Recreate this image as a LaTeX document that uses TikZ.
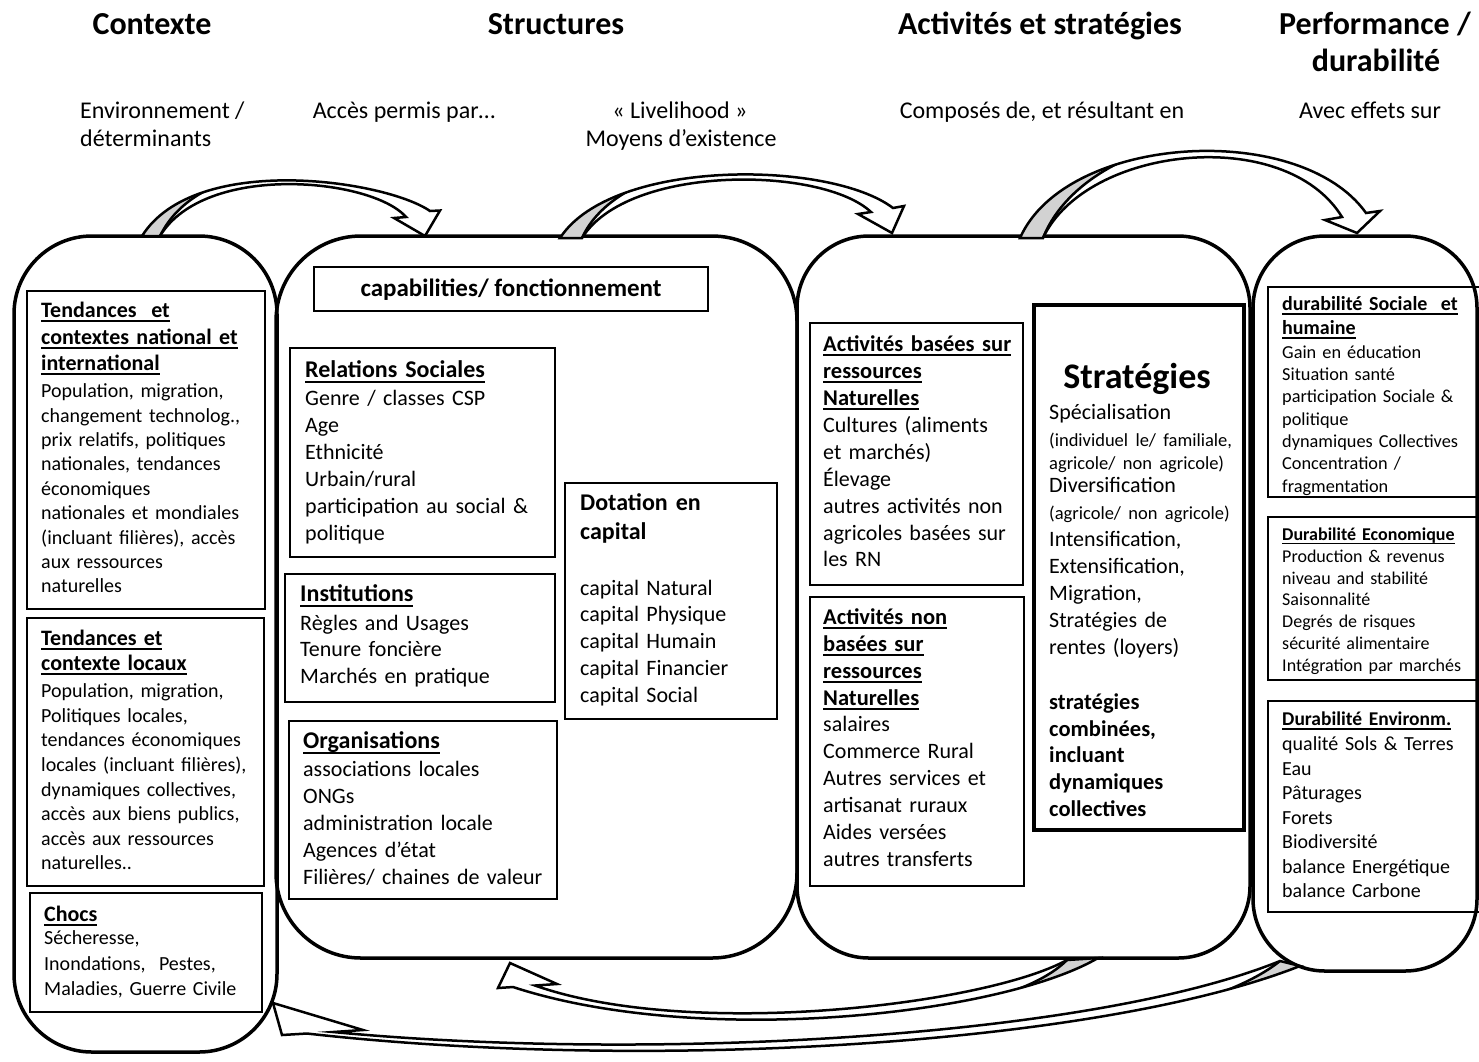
\documentclass[tikz,border=0pt]{standalone}
\usepackage{fontspec}
\setmainfont{Carlito}
\newcommand{\fsz}[2]{\fontsize{#1}{#2}\selectfont}
\newcommand{\myul}[1]{\leavevmode{\setbox0\hbox{#1}\rlap{\rule[-0.2em]{\wd0}{0.075em}}\box0}}
\newcommand{\bentarrow}[3]{%
  \fill[white] #1;
  \begin{scope}
    \clip #1;
    \fill[gray!35] #2 #3;
    \draw[line width=2.5pt] #2;
  \end{scope}
  \draw[arrowline] #1;}
\begin{document}
\begin{tikzpicture}[x=1pt,y=-1pt,
  bigshape/.style={draw, line width=3.5pt, rounded corners=#1},
  boxline/.style={draw, line width=1.5pt},
  thickbox/.style={draw, line width=3.5pt},
  lbl/.style={anchor=north west, inner sep=0pt, align=left, text width=300pt},
  arrowline/.style={draw, line width=2.5pt, line join=miter, miter limit=20},
  hdr/.style={anchor=base, inner sep=0pt, font=\fsz{32}{38}\bfseries},
  sub/.style={anchor=base, inner sep=0pt, font=\fsz{24}{28}}]
\useasboundingbox (0,0) rectangle (1479,1061);
\fill[white] (0,0) rectangle (1479,1061);

% ---------- headers ----------
\node[hdr] (hCtx) at (152,34) {Contexte};
\node[hdr] (hStr) at (556,34) {Structures};
\node[hdr] (hAct) at (1040,34) {Activités et stratégies};
\node[hdr] (hPerfA) at (1375,34) {Performance /};
\node[hdr] (hPerfB) at (1376,71) {durabilité};

\node[sub, anchor=base west] (sEnvA) at (80,118) {Environnement /};
\node[sub, anchor=base west] (sEnvB) at (80,146) {déterminants};
\node[sub] (sAcc) at (404,118) {Accès permis par…};
\node[sub] (sLivA) at (680,118) {« Livelihood »};
\node[sub] (sLivB) at (681,146) {Moyens d’existence};
\node[sub] (sComp) at (1042,118) {Composés de, et résultant en};
\node[sub] (sAvec) at (1370,118) {Avec effets sur};

% ---------- column 1 : contexte ----------
\draw[bigshape=78pt] (14,236) rectangle (277,1052);
\draw[boxline] (27,291) rectangle (265,609);
\node[lbl, font=\fsz{22}{26.5}\bfseries] (aT) at (41,302) {\myul{Tendances\ \ et}\\ \myul{contextes national et}\\ \myul{international}};
\node[lbl, font=\fsz{20}{24.4}] (aB) at (41,383.6) {Population, migration,\\ changement technolog.,\\ prix relatifs, politiques\\ nationales, tendances\\ économiques\\ nationales et mondiales\\ (incluant filières), accès\\ aux ressources\\ naturelles};
\draw[boxline] (27,618) rectangle (264,886);
\node[lbl, font=\fsz{22}{25}\bfseries] (bT) at (41,629.7) {\myul{Tendances et}\\ \myul{contexte locaux}};
\node[lbl, font=\fsz{20}{24.6}] (bB) at (41,683.6) {Population, migration,\\ Politiques locales,\\ tendances économiques\\ locales (incluant filières),\\ dynamiques collectives,\\ accès aux biens publics,\\ accès aux ressources\\ naturelles..};
\draw[boxline] (30,893) rectangle (262,1012);
\node[lbl, font=\fsz{22}{25}\bfseries] (cT) at (44,905.7) {\myul{Chocs}};
\node[lbl, font=\fsz{20}{25.5}] (cB) at (44,930.6) {Sécheresse,\\ Inondations,\ \ Pestes,\\ Maladies, Guerre Civile};

% ---------- column 2 : structures ----------
\draw[bigshape=85pt] (276,236) rectangle (797,958);
\draw[boxline] (314,267) rectangle (708,311);
\node[inner sep=0pt, font=\fsz{25}{29}\bfseries] (cap) at (511,290) {capabilities/ fonctionnement};
\draw[boxline] (290,348) rectangle (555,557);
\node[lbl, font=\fsz{24}{27}\bfseries] (rT) at (305,360.7) {\myul{Relations Sociales}};
\node[lbl, font=\fsz{22}{27}] (rB) at (305,389.7) {Genre / classes CSP\\ Age\\ Ethnicité\\ Urbain/rural\\ participation au social \&\\ politique};
\draw[boxline] (285,574) rectangle (555,702);
\node[lbl, font=\fsz{24}{27}\bfseries] (iT) at (300,584.7) {\myul{Institutions}};
\node[lbl, font=\fsz{22}{26.5}] (iB) at (300,614.7) {Règles and Usages\\ Tenure foncière\\ Marchés en pratique};
\draw[boxline] (289,721) rectangle (557,899);
\node[lbl, font=\fsz{24}{27}\bfseries] (oT) at (303,731.7) {\myul{Organisations}};
\node[lbl, font=\fsz{22}{27}] (oB) at (303,760.7) {associations locales\\ ONGs\\ administration locale\\ Agences d’état\\ Filières/ chaines de valeur};
\draw[boxline] (565,483) rectangle (777,719);
\node[lbl, font=\fsz{24}{29}\bfseries] (dT) at (580,493.7) {Dotation en\\ capital};
\node[lbl, font=\fsz{22}{26.75}] (dB) at (580,579.7) {capital Natural\\ capital Physique\\ capital Humain\\ capital Financier\\ capital Social};

% ---------- column 3 : activites ----------
\draw[bigshape=72pt] (797,236) rectangle (1250,958);
\draw[boxline] (810,323) rectangle (1023,585);
\node[lbl, font=\fsz{22.5}{27}\bfseries] (nT) at (823,335.4) {\myul{Activités basées sur}\\ \myul{ressources}\\ \myul{Naturelles}};
\node[lbl, font=\fsz{22}{26.8}] (nB) at (823,416.7) {Cultures (aliments\\ et marchés)\\ Élevage\\ autres activités non\\ agricoles basées sur\\ les RN};
\draw[boxline] (810,597) rectangle (1024,886);
\node[lbl, font=\fsz{22.5}{27}\bfseries] (mT) at (823,608.4) {\myul{Activités non}\\ \myul{basées sur}\\ \myul{ressources}\\ \myul{Naturelles}};
\node[lbl, font=\fsz{22}{27}] (mB) at (823,715.7) {salaires\\ Commerce Rural\\ Autres services et\\ artisanat ruraux\\ Aides versées\\ autres transferts};
\draw[thickbox] (1034,305) rectangle (1244,830);
\node[inner sep=0pt, font=\fsz{36}{40}\bfseries] (sT) at (1137,379) {Stratégies};
\node[lbl, font=\fsz{22}{27}] (sB) at (1049,404.5) {Spécialisation\\ {\fsz{18.5}{27}(individuel le/ familiale,}\\[-4pt] {\fsz{18.5}{27}agricole/ non agricole)}\\[-4pt] Diversification\\ {\fsz{18.5}{27}(agricole/ non agricole)}\\ Intensification,\\ Extensification,\\ Migration,\\ Stratégies de\\ rentes (loyers)};
\node[lbl, font=\fsz{22.5}{26.75}\bfseries] (sC) at (1049,693.4) {stratégies\\ combinées,\\ incluant\\ dynamiques\\ collectives};

% ---------- column 4 : performance ----------
\draw[bigshape=72pt] (1253,236) rectangle (1477,971);
\draw[boxline] (1268,287) rectangle (1490,497);
\node[lbl, font=\fsz{20}{24}\bfseries] (pAT) at (1282,296.6) {\myul{durabilité Sociale\ \ et}\\ \myul{humaine}};
\node[lbl, font=\fsz{18.3}{22.3}] (pAB) at (1282,345.4) {Gain en éducation\\ Situation santé\\ participation Sociale \&\\ politique\\ dynamiques Collectives\\ Concentration /\\ fragmentation};
\draw[boxline] (1268,517) rectangle (1490,680);
\node[lbl, font=\fsz{18}{22}\bfseries] (pBT) at (1282,527.5) {\myul{Durabilité Economique}};
\node[lbl, font=\fsz{18}{21.8}] (pBB) at (1282,549.5) {Production \& revenus\\ niveau and stabilité\\ Saisonnalité\\ Degrés de risques\\ sécurité alimentaire\\ Intégration par marchés};
\draw[boxline] (1268,701) rectangle (1490,912);
\node[lbl, font=\fsz{19.5}{24}\bfseries] (pCT) at (1282,711.8) {\myul{Durabilité Environm.}};
\node[lbl, font=\fsz{20}{24.5}] (pCB) at (1282,736.6) {qualité Sols \& Terres\\ Eau\\ Pâturages\\ Forets\\ Biodiversité\\ balance Energétique\\ balance Carbone};

% ---------- curved block arrows ----------
% contexte -> structures
\bentarrow{(142,236) .. controls (195,152) and (385,180) .. (430,211) -- (440,210.5) -- (425,236) -- (394,218) -- (406,217) .. controls (372,178) and (205,162) .. (160,236) -- cycle}
  {(160,236) .. controls (176,204) and (205,186) .. (250,174)}
  {-- (250,140) -- (120,140) -- (120,245) -- (160,245) -- cycle}
% structures -> activites
\bentarrow{(560,238) .. controls (612,158) and (830,160) .. (893,208) -- (904,206) -- (892,233) -- (858,214) -- (871,212) .. controls (822,166) and (628,164) .. (582,238) -- cycle}
  {(582,238) .. controls (596,207) and (630,184) .. (680,170)}
  {-- (680,140) -- (540,140) -- (540,245) -- (582,245) -- cycle}
% activites -> performance
\bentarrow{(1020,238) .. controls (1066,134) and (1300,120) .. (1366,213) -- (1380,211) -- (1357,233) -- (1325,220) -- (1342,217) .. controls (1285,124) and (1086,146) .. (1043,238) -- cycle}
  {(1043,238) .. controls (1058,200) and (1096,168) .. (1150,150)}
  {-- (1150,110) -- (1000,110) -- (1000,245) -- (1043,245) -- cycle}
% activites -> structures (bottom)
\bentarrow{(1098,958) .. controls (1000,1015) and (700,1048) .. (513,987) -- (498,988) -- (510,963) -- (557,984) -- (535,985.5) .. controls (690,1040) and (985,1005) .. (1067,960) -- cycle}
  {(1067,960) .. controls (1045,982) and (1005,996) .. (950,1010)}
  {-- (950,1050) -- (1130,1050) -- (1130,955) -- (1067,955) -- cycle}
% performance -> contexte (bottom)
\bentarrow{(1300,966) .. controls (1100,1045) and (650,1072) .. (307,1033.5) -- (282,1035) -- (273,1003) -- (363,1030) -- (333,1032) .. controls (650,1062) and (1090,1038) .. (1280,961) -- cycle}
  {(1280,961) .. controls (1250,985) and (1200,1002) .. (1140,1018)}
  {-- (1140,1060) -- (1320,1060) -- (1320,955) -- (1280,955) -- cycle}
\end{tikzpicture}
\end{document}
